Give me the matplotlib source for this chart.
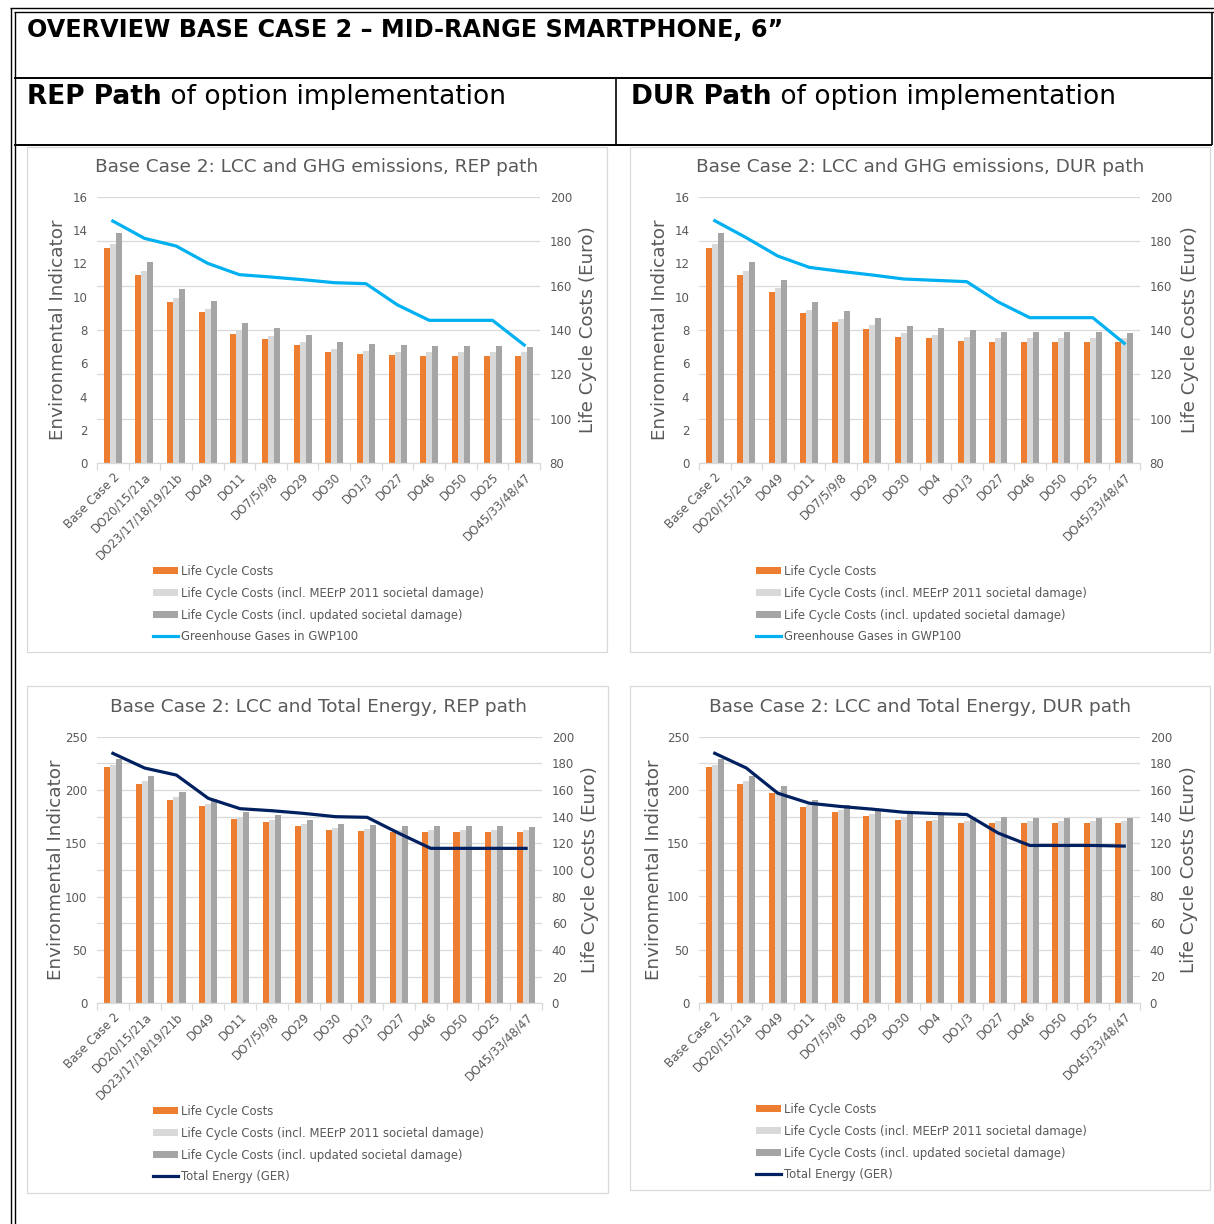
import matplotlib
matplotlib.use("Agg")
import matplotlib.pyplot as plt
from matplotlib.patches import Rectangle
from matplotlib.lines import Line2D
import numpy as np

# ---------------------------------------------------------------- data
rep_categories = ["Base Case 2", "DO20/15/21a", "DO23/17/18/19/21b", "DO49", "DO11",
                  "DO7/5/9/8", "DO29", "DO30", "DO1/3", "DO27", "DO46", "DO50",
                  "DO25", "DO45/33/48/47"]
dur_categories = ["Base Case 2", "DO20/15/21a", "DO49", "DO11", "DO7/5/9/8", "DO29",
                  "DO30", "DO4", "DO1/3", "DO27", "DO46", "DO50", "DO25",
                  "DO45/33/48/47"]

# Life cycle costs (Euro), REP path
rep_lcc = [177.0, 164.6, 152.8, 147.9, 138.2, 136.0, 133.1, 130.0, 129.1, 128.8,
           128.5, 128.5, 128.5, 128.5]
rep_lcc_meerp = [178.7, 166.4, 154.4, 149.6, 140.0, 137.5, 134.8, 131.3, 130.6, 130.3,
                 130.0, 130.0, 130.0, 130.0]
rep_lcc_updated = [183.5, 170.5, 158.5, 153.2, 143.2, 140.9, 137.8, 134.5, 133.6, 133.1,
                   132.8, 132.8, 132.8, 132.4]

# Life cycle costs (Euro), DUR path
dur_lcc = [177.0, 164.6, 157.3, 147.5, 143.6, 140.5, 137.0, 136.3, 135.2, 134.8,
           134.8, 134.8, 134.8, 134.8]
dur_lcc_meerp = [178.7, 166.4, 159.0, 149.0, 145.1, 142.1, 138.5, 137.6, 136.9, 136.3,
                 136.3, 136.3, 136.3, 136.3]
dur_lcc_updated = [183.5, 170.5, 162.7, 152.5, 148.6, 145.6, 141.8, 140.9, 139.9, 139.3,
                   139.0, 139.0, 139.0, 138.8]

# Environmental indicators
rep_ghg = [14.54, 13.50, 13.04, 12.00, 11.32, 11.18, 11.02, 10.84, 10.78, 9.50,
           8.58, 8.58, 8.58, 7.10]
dur_ghg = [14.56, 13.54, 12.44, 11.76, 11.52, 11.30, 11.06, 10.98, 10.90, 9.68,
           8.74, 8.74, 8.74, 7.20]
rep_ger = [234.4, 220.6, 214.0, 192.2, 182.5, 180.6, 178.1, 175.0, 174.4, 159.4,
           145.3, 145.3, 145.3, 145.3]
dur_ger = [234.4, 220.6, 196.9, 187.5, 184.4, 181.9, 179.0, 177.8, 176.9, 159.4,
           147.8, 147.8, 147.8, 147.2]

bar_labels = ["Life Cycle Costs",
              "Life Cycle Costs (incl. MEErP 2011 societal damage)",
              "Life Cycle Costs (incl. updated societal damage)"]

# ---------------------------------------------------------------- style
ORANGE = "#ED7D31"
LIGHT = "#D9D9D9"
DARK = "#A5A5A5"
BLUE = "#00B0F0"
NAVY = "#002060"
TXT = "#595959"
GRID = "#D9D9D9"

plt.rcParams["font.family"] = ["DejaVu Sans"]

W, H = 1214, 1224
fig = plt.figure(figsize=(W / 100, H / 100), dpi=100)
fig.patch.set_facecolor("white")


def fx(x):
    return x / W


def fy(y):
    return 1 - y / H


def hline(y, x0, x1, lw=1.0):
    fig.add_artist(Line2D([fx(x0), fx(x1)], [fy(y), fy(y)], transform=fig.transFigure,
                          color="black", lw=lw, solid_capstyle="butt"))


def vline(x, y0, y1, lw=1.0):
    fig.add_artist(Line2D([fx(x), fx(x)], [fy(y0), fy(y1)], transform=fig.transFigure,
                          color="black", lw=lw, solid_capstyle="butt"))


# ---------------------------------------------------------------- table frame
hline(7.5, 10, W, 1.0)
hline(12, 14, W, 1.0)
vline(10.5, 7.5, H, 1.0)
vline(14.5, 12, H, 1.0)
vline(1212, 12, 145, 1.2)
hline(77.5, 14, 1212, 1.4)
hline(145, 14, 1212, 1.4)
vline(615.5, 77.5, 145, 1.2)

fig.text(fx(27), fy(30), "OVERVIEW BASE CASE 2 \u2013 MID-RANGE SMARTPHONE, 6\u201d",
         fontsize=17.2, weight="bold", ha="left", va="center")

renderer = fig.canvas.get_renderer()


def mixed_heading(x, y, bold_part, rest, size):
    t = fig.text(fx(x), fy(y), bold_part, fontsize=size, weight="bold",
                 ha="left", va="center")
    bb = t.get_window_extent(renderer=renderer)
    fig.text(bb.x1 / W, fy(y), rest, fontsize=size, ha="left", va="center")


mixed_heading(27, 97, "REP Path", " of option implementation", 19.0)
mixed_heading(631, 97, "DUR Path", " of option implementation", 19.0)


# ---------------------------------------------------------------- charts
def draw_chart(box, plot, title, title_xy, cats, lcc, meerp, upd, env,
               env_lim, env_step, lcc_lim, lcc_step, line_color, line_label,
               label_x, legend_xy):
    # chart frame
    bl, bt, br, bb = box
    fig.add_artist(Rectangle((fx(bl), fy(bb)), (br - bl) / W, (bb - bt) / H,
                             transform=fig.transFigure, facecolor="white",
                             edgecolor="#D9D9D9", lw=0.9, zorder=-1))
    l, t, r, b = plot
    ax = fig.add_axes([l / W, 1 - b / H, (r - l) / W, (b - t) / H])
    ax2 = ax.twinx()
    ax.set_zorder(ax2.get_zorder() + 1)
    ax.patch.set_visible(False)

    n = len(cats)
    x = np.arange(n)
    w = 0.19
    b1 = ax2.bar(x - w, lcc, w, color=ORANGE, label=bar_labels[0])
    b2 = ax2.bar(x, meerp, w, color=LIGHT, label=bar_labels[1])
    b3 = ax2.bar(x + w, upd, w, color=DARK, label=bar_labels[2])
    ln, = ax.plot(x, env, color=line_color, lw=2.3, label=line_label,
                  solid_joinstyle="round")

    ax.set_xlim(-0.5, n - 0.5)
    ax.set_ylim(*env_lim)
    ax.set_yticks(np.arange(env_lim[0], env_lim[1] + 0.001, env_step))
    ax2.set_ylim(*lcc_lim)
    ax2.set_yticks(np.arange(lcc_lim[0], lcc_lim[1] + 0.001, lcc_step))
    ax2.yaxis.grid(True, color=GRID, lw=0.9)
    ax2.set_axisbelow(True)

    for a in (ax, ax2):
        for s in a.spines.values():
            s.set_visible(False)
    ax.spines["bottom"].set_visible(True)
    ax.spines["bottom"].set_color(GRID)
    ax.spines["bottom"].set_linewidth(0.9)

    ax.tick_params(axis="y", length=0, labelsize=8.5, labelcolor=TXT, pad=7)
    ax2.tick_params(axis="y", length=0, labelsize=8.5, labelcolor=TXT, pad=7)

    ax.set_xticks(x)
    ax.set_xticklabels(cats, rotation=45, ha="right", rotation_mode="anchor",
                       fontsize=8.5, color=TXT)
    ax.set_xticks(np.arange(-0.5, n), minor=True)
    ax.tick_params(axis="x", which="major", length=0, pad=5)
    ax.tick_params(axis="x", which="minor", length=5, color=GRID, width=0.9)

    # axis titles, placed by their centre line
    ax.set_ylabel("Environmental Indicator", fontsize=13.2, color=TXT)
    ax2.set_ylabel("Life Cycle Costs (Euro)", fontsize=13.2, color=TXT)
    ax.yaxis.set_label_coords((label_x[0] + 9 - l) / (r - l), 0.5)
    ax2.yaxis.set_label_coords((label_x[1] - 9 - l) / (r - l), 0.5)

    fig.text(fx(title_xy[0]), fy(title_xy[1]), title, fontsize=13.3, color=TXT,
             ha="center", va="center")

    fig.legend([b1, b2, b3, ln], bar_labels + [line_label], loc="upper left",
               bbox_to_anchor=(fx(legend_xy[0]), fy(legend_xy[1])),
               frameon=False, fontsize=8.4, labelcolor=TXT, handlelength=2.15,
               handleheight=0.55, handletextpad=0.28, labelspacing=0.75,
               borderpad=0, borderaxespad=0)


draw_chart((27, 147, 607, 652), (97, 196.7, 540, 463.3),
           "Base Case 2: LCC and GHG emissions, REP path", (317, 167),
           rep_categories, rep_lcc, rep_lcc_meerp, rep_lcc_updated, rep_ghg,
           (0, 16), 2, (80, 200), 20, BLUE, "Greenhouse Gases in GWP100",
           (58, 588), (153, 565))

draw_chart((630, 147, 1210, 652), (699, 196.7, 1140, 463.3),
           "Base Case 2: LCC and GHG emissions, DUR path", (920, 167),
           dur_categories, dur_lcc, dur_lcc_meerp, dur_lcc_updated, dur_ghg,
           (0, 16), 2, (80, 200), 20, BLUE, "Greenhouse Gases in GWP100",
           (660, 1190), (756, 565))

draw_chart((27, 686, 608, 1193), (97, 736.7, 542, 1003.3),
           "Base Case 2: LCC and Total Energy, REP path", (318, 707),
           rep_categories, rep_lcc, rep_lcc_meerp, rep_lcc_updated, rep_ger,
           (0, 250), 50, (0, 200), 20, NAVY, "Total Energy (GER)",
           (56, 590), (153, 1105))

draw_chart((630, 686, 1210, 1190), (699, 736.7, 1140, 1002.7),
           "Base Case 2: LCC and Total Energy, DUR path", (920, 707),
           dur_categories, dur_lcc, dur_lcc_meerp, dur_lcc_updated, dur_ger,
           (0, 250), 50, (0, 200), 20, NAVY, "Total Energy (GER)",
           (654, 1189), (756, 1103))

fig.savefig("out.png", dpi=100, facecolor="white")
